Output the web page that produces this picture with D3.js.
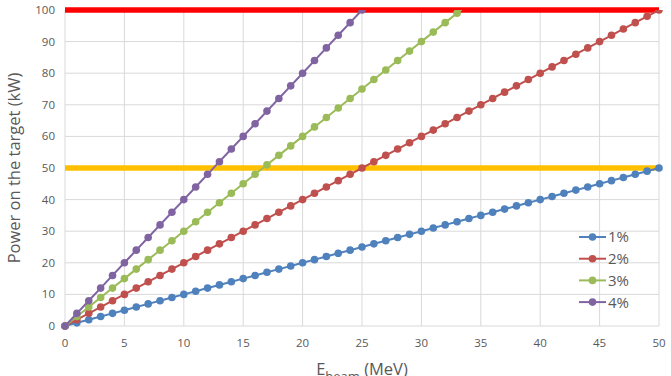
<!DOCTYPE html>
<html>
<head>
<meta charset="utf-8">
<script src="https://cdn.jsdelivr.net/npm/d3@7"></script>
<style>
  body { margin: 0; background: #fff; }
  svg { display: block; font-family: "Open Sans", sans-serif; }
</style>
</head>
<body>
<svg id="chart" width="671" height="376"></svg>
<script>
// beam energy (MeV), one point every MeV
const energy = [0,1,2,3,4,5,6,7,8,9,10,11,12,13,14,15,16,17,18,19,20,21,22,23,24,25,
  26,27,28,29,30,31,32,33,34,35,36,37,38,39,40,41,42,43,44,45,46,47,48,49,50];

// power on the target (kW) for each loss fraction
const p1 = [0,1,2,3,4,5,6,7,8,9,10,11,12,13,14,15,16,17,18,19,20,21,22,23,24,25,
  26,27,28,29,30,31,32,33,34,35,36,37,38,39,40,41,42,43,44,45,46,47,48,49,50];
const p2 = [0,2,4,6,8,10,12,14,16,18,20,22,24,26,28,30,32,34,36,38,40,42,44,46,48,50,
  52,54,56,58,60,62,64,66,68,70,72,74,76,78,80,82,84,86,88,90,92,94,96,98,100];
const p3 = [0,3,6,9,12,15,18,21,24,27,30,33,36,39,42,45,48,51,54,57,60,63,66,69,72,75,
  78,81,84,87,90,93,96,99,102];
const p4 = [0,4,8,12,16,20,24,28,32,36,40,44,48,52,56,60,64,68,72,76,80,84,88,92,96,100,104];

const seriesNames = ['1%', '2%', '3%', '4%'];
const seriesColors = ['#4f81bd', '#c0504d', '#9bbb59', '#8064a2'];
const seriesValues = [p1, p2, p3, p4];

// limit lines (kW)
const limits = [100, 50];
const limitColors = ['#ff0000', '#ffc000'];

const xTicks = [0,5,10,15,20,25,30,35,40,45,50];
const yTicks = [0,10,20,30,40,50,60,70,80,90,100];

const svg = d3.select('#chart');
const margin = { left: 65, right: 12, top: 10, bottom: 50 };
const W = 671, H = 376;

const x = d3.scaleLinear().domain([0, 50]).range([margin.left, W - margin.right]);
const y = d3.scaleLinear().domain([0, 100]).range([H - margin.bottom, margin.top]);

const grey = '#595959';

// gridlines
svg.append('g')
  .selectAll('line')
  .data(xTicks)
  .join('line')
  .attr('x1', d => x(d)).attr('x2', d => x(d))
  .attr('y1', y(0)).attr('y2', y(100))
  .attr('stroke', '#d9d9d9').attr('stroke-width', 1);

svg.append('g')
  .selectAll('line')
  .data(yTicks)
  .join('line')
  .attr('x1', x(0)).attr('x2', x(50))
  .attr('y1', d => y(d)).attr('y2', d => y(d))
  .attr('stroke', '#d9d9d9').attr('stroke-width', 1);

// tick labels
svg.append('g')
  .selectAll('text')
  .data(yTicks)
  .join('text')
  .attr('x', x(0) - 10)
  .attr('y', d => y(d))
  .attr('dy', '0.35em')
  .attr('text-anchor', 'end')
  .attr('font-size', 11.5)
  .attr('fill', grey)
  .text(d => d);

svg.append('g')
  .selectAll('text')
  .data(xTicks)
  .join('text')
  .attr('x', d => x(d))
  .attr('y', y(0) + 21)
  .attr('text-anchor', 'middle')
  .attr('font-size', 11.5)
  .attr('fill', grey)
  .text(d => d);

// axis titles
svg.append('text')
  .attr('transform', `translate(20,${(y(0) + y(100)) / 2}) rotate(-90)`)
  .attr('text-anchor', 'middle')
  .attr('font-size', 16.5)
  .attr('fill', grey)
  .text('Power on the target (kW)');

// x title sits partly below the frame, as in the original
const xt = svg.append('text')
  .attr('x', x(25))
  .attr('y', 375)
  .attr('text-anchor', 'middle')
  .attr('font-size', 16.5)
  .attr('fill', grey);
xt.append('tspan').text('E');
xt.append('tspan').attr('dy', 6).attr('font-size', 13).text('beam');
xt.append('tspan').attr('dy', -6).text(' (MeV)');

// limit lines
svg.append('g')
  .selectAll('line')
  .data(limits)
  .join('line')
  .attr('x1', x(0)).attr('x2', x(50))
  .attr('y1', d => y(d)).attr('y2', d => y(d))
  .attr('stroke', (d, i) => limitColors[i])
  .attr('stroke-width', 5.5);

// clip series to the plot area
svg.append('clipPath').attr('id', 'plot')
  .append('rect')
  .attr('x', x(0) - 6).attr('y', y(100))
  .attr('width', x(50) - x(0) + 12).attr('height', y(0) - y(100) + 6);

const plot = svg.append('g').attr('clip-path', 'url(#plot)');

const line = d3.line()
  .x((d, i) => x(energy[i]))
  .y(d => y(d));

seriesValues.forEach((vals, s) => {
  const g = plot.append('g');
  g.append('path')
    .datum(vals)
    .attr('d', line)
    .attr('fill', 'none')
    .attr('stroke', seriesColors[s])
    .attr('stroke-width', 2);
  g.selectAll('circle')
    .data(vals)
    .join('circle')
    .attr('cx', (d, i) => x(energy[i]))
    .attr('cy', d => y(d))
    .attr('r', 3.8)
    .attr('fill', seriesColors[s]);
});

// legend
const legend = svg.append('g')
  .selectAll('g')
  .data(seriesNames)
  .join('g')
  .attr('transform', (d, i) => `translate(579,${237 + i * 21.7})`);

legend.append('line')
  .attr('x1', 0).attr('x2', 27)
  .attr('stroke', (d, i) => seriesColors[i])
  .attr('stroke-width', 2);
legend.append('circle')
  .attr('cx', 13.5).attr('r', 3.8)
  .attr('fill', (d, i) => seriesColors[i]);
legend.append('text')
  .attr('x', 29)
  .attr('dy', '0.36em')
  .attr('font-size', 15)
  .attr('fill', grey)
  .text(d => d);
</script>
</body>
</html>
